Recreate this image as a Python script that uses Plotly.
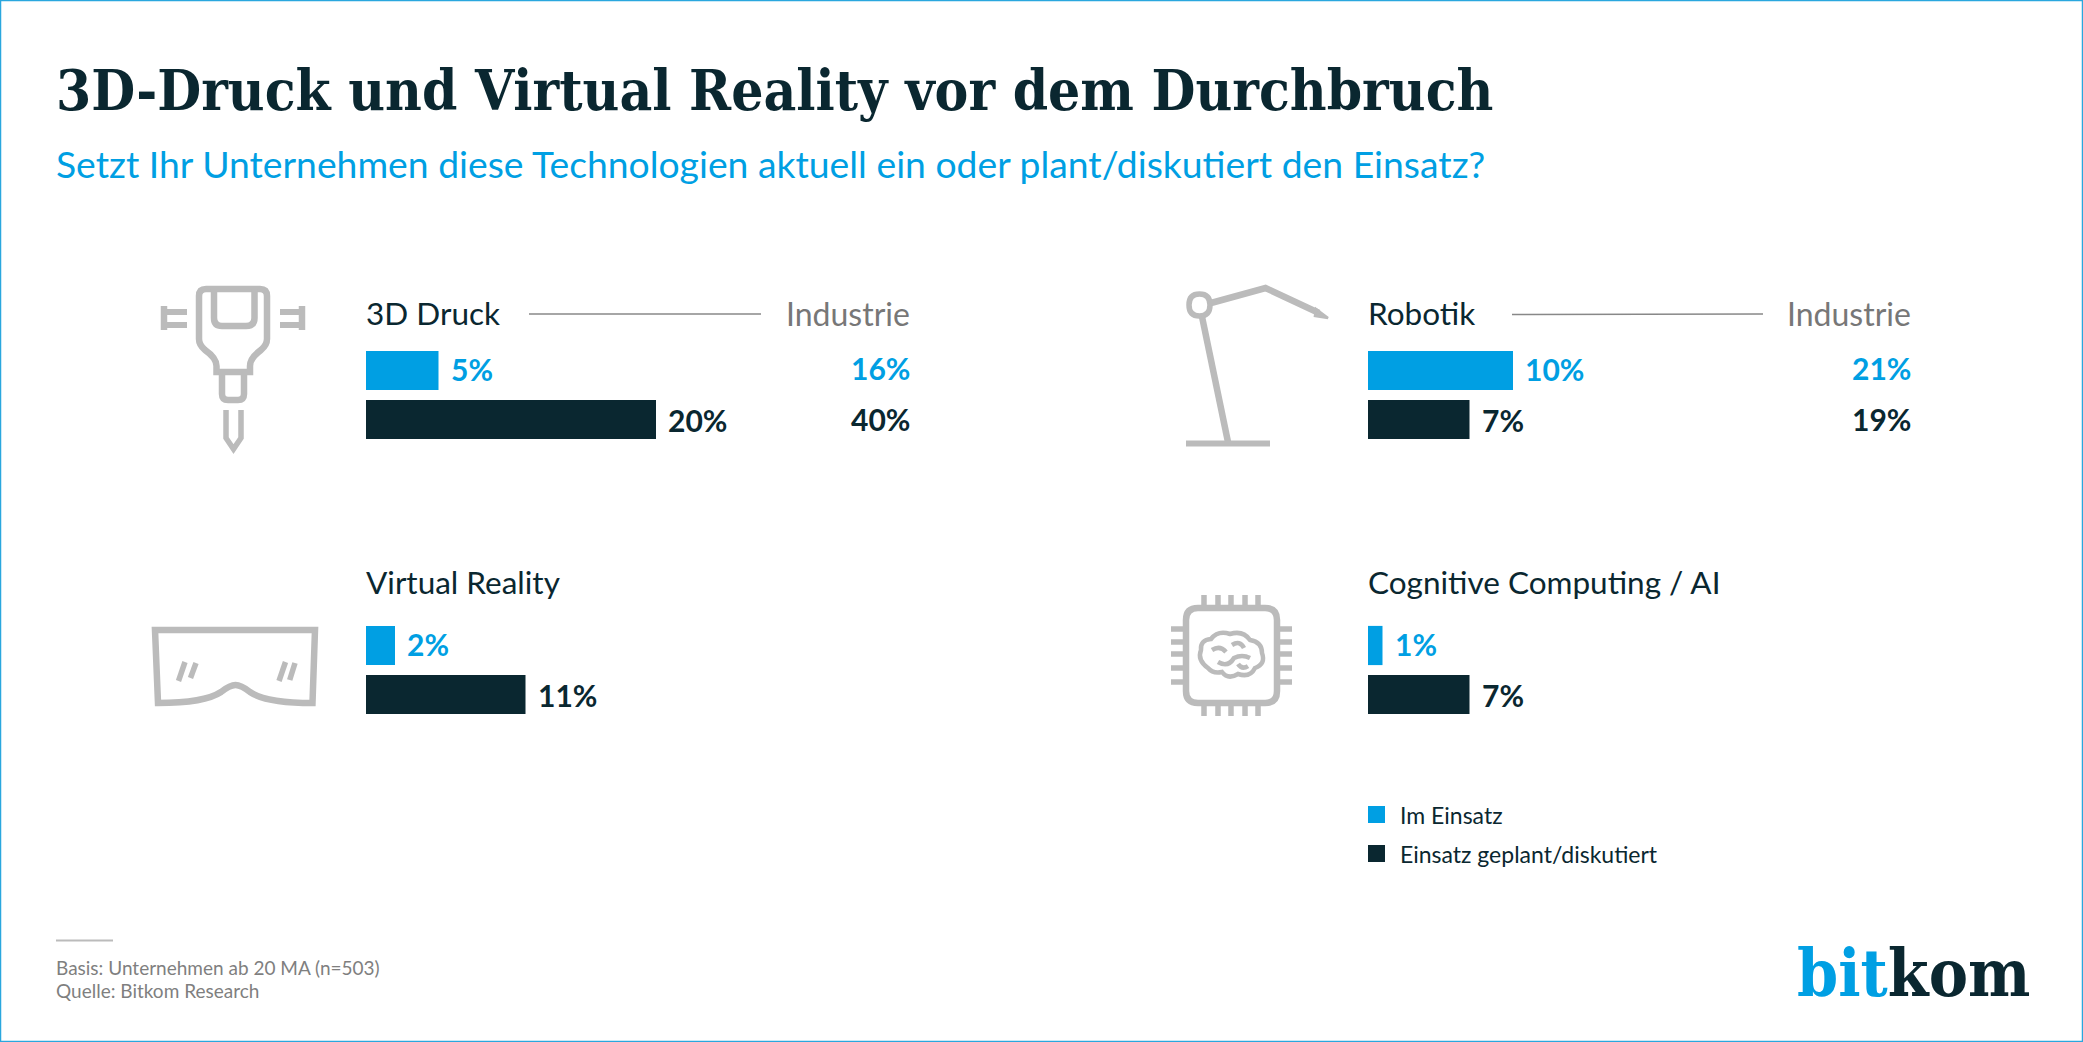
import re
import plotly.graph_objects as go

W, H = 2083, 1042

# ---- data ----
panels = ["3D Druck", "Robotik", "Virtual Reality", "Cognitive Computing / AI"]
series = ["Im Einsatz", "Einsatz geplant/diskutiert"]
im_einsatz = [5, 10, 2, 1]
geplant = [20, 7, 11, 7]
industrie_einsatz = [16, 21, None, None]
industrie_geplant = [40, 19, None, None]
title = "3D-Druck und Virtual Reality vor dem Durchbruch"
subtitle = "Setzt Ihr Unternehmen diese Technologien aktuell ein oder plant/diskutiert den Einsatz?"
industrie_label = "Industrie"
footer = ["Basis: Unternehmen ab 20 MA (n=503)", "Quelle: Bitkom Research"]

# ---- style ----
BLUE = "#009FE3"
DARK = "#0A2730"
GREY = "#BBBBBB"
SANS = "Lato"
SLAB = "DejaVu Serif Condensed"


def fx(x):
    return x / W


def fy(y):
    return 1 - y / H


def path(d):
    """Turn a path written in page pixels into paper coordinates."""
    n = [0]

    def conv(m):
        v = float(m.group(0))
        r = fx(v) if n[0] % 2 == 0 else fy(v)
        n[0] += 1
        return f"{r:.5f}"

    return re.sub(r"-?\d+\.?\d*", conv, d)


shapes = []


def stroke(d, w=5, color=GREY, fill=None):
    s = dict(type="path", xref="paper", yref="paper", path=path(d),
             line=dict(color=color, width=w), layer="above")
    if fill:
        s["fillcolor"] = fill
    shapes.append(s)


def text(x, y, t, size, color=DARK, anchor="left", font=SANS, weight=400, vanchor="middle"):
    annotations.append(dict(x=fx(x), y=fy(y), xref="paper", yref="paper", text=t, showarrow=False,
                            xanchor=anchor, yanchor=vanchor,
                            font=dict(family=font, size=size, color=color, weight=weight),
                            borderpad=0, borderwidth=0))


annotations = []

fig = go.Figure()
lefts = [366, 1368, 366, 1368]
tops = [346, 346, 621, 621]
head_ys = [313, 313, 582, 582]
right_edge = [910, 1911]
PANEL_H = 98
PANEL_W = 435

layout_axes = {}
for i, name in enumerate(panels):
    sfx = "" if i == 0 else str(i + 1)
    xa, ya = "x" + sfx, "y" + sfx
    for s, vals, col, ysh in ((series[0], im_einsatz, BLUE, 1.5), (series[1], geplant, DARK, 0)):
        fig.add_trace(go.Bar(x=[vals[i]], y=[s], orientation="h", name=s, marker=dict(color=col, line=dict(width=0)),
                             xaxis=xa, yaxis=ya, showlegend=False,
                             hovertemplate=f"{name}<br>{s}: %{{x}}%<extra></extra>"))
        annotations.append(dict(x=vals[i], y=s, xref=xa, yref=ya, text=f"{vals[i]}%", showarrow=False,
                                xanchor="left", yanchor="middle", xshift=10, yshift=ysh,
                                font=dict(family=SANS, size=30, color=col, weight=700)))
    layout_axes["xaxis" + sfx] = dict(domain=[fx(lefts[i]), fx(lefts[i] + PANEL_W)], range=[0, 30],
                                      visible=False, fixedrange=True)
    layout_axes["yaxis" + sfx] = dict(domain=[fy(tops[i] + PANEL_H), fy(tops[i])], type="category",
                                      categoryorder="array", categoryarray=series, range=[1.5, -0.5],
                                      visible=False, fixedrange=True)
    text(lefts[i], head_ys[i], name, 31.5)
    if i < 2:
        text(right_edge[i], head_ys[i], industrie_label, 32, color="#777777", anchor="right")
        text(right_edge[i], 367.5, f"{industrie_einsatz[i]}%", 30, color=BLUE, anchor="right", weight=700)
        text(right_edge[i], 419, f"{industrie_geplant[i]}%", 30, color=DARK, anchor="right", weight=700)

# header rules
stroke("M529,314 L761,314", 1.5, "#888888")
stroke("M1512,314.5 L1763,314", 1.5, "#888888")

# titles
text(56, 90, title, 56.3, font=SLAB, weight=700)
text(56, 163, subtitle, 37.3, color=BLUE)

# legend
for sy, col, label in ((806, BLUE, series[0]), (845, DARK, series[1])):
    shapes.append(dict(type="rect", xref="paper", yref="paper", x0=fx(1368), x1=fx(1385), y0=fy(sy), y1=fy(sy + 17),
                       fillcolor=col, line=dict(width=0)))
    text(1400, sy + 8.5, label, 23, color=DARK)

# footer
stroke("M56,940.5 L113,940.5", 2, GREY)
text(56, 967, footer[0], 19, color="#7F7F7F")
text(56, 990, footer[1], 19, color="#7F7F7F")
text(1797, 972, f'<span style="color:{BLUE}">bit</span><span style="color:{DARK}">kom</span>', 65.5,
     font=SLAB, weight=700)

# page frame
shapes.append(dict(type="rect", xref="paper", yref="paper", x0=0, x1=1, y0=0, y1=1,
                   line=dict(color="#2AA7DE", width=2.5), layer="above"))

# jackhammer icon
stroke("M199,296 Q199,289 206,289 L260,289 Q267,289 267,296 L267,339 Q267,345 261,350 Q250,358 250,366 L250,372 "
       "L216.5,372 L216.5,366 Q216.5,358 205,350 Q199,345 199,339 Z", 6.5)
stroke("M214,289 L214,318 Q214,326 222,326 L246,326 Q254.5,326 254.5,318 L254.5,289", 6.5)
stroke("M222,372 L222,394 Q222,400 228,400 L238,400 Q244,400 244,394 L244,372", 6.5)
stroke("M226,410 L226,438 L233.5,449 L241,438 L241,410", 5.5)
stroke("M164,306 L164,330", 6.5)
stroke("M164,312 L187,312", 6)
stroke("M164,325 L187,325", 6)
stroke("M302,306 L302,330", 6.5)
stroke("M280,312 L302,312", 6)
stroke("M280,325 L302,325", 6)

# VR goggles icon
stroke("M155,630 L315,630 L312.5,703 C285,703 262,700 250,692 Q241,685 235.5,685 Q230,685 221,692 "
       "C209,700 186,703 158,703 Z", 6.5)
stroke("M185,662 L178.5,681", 5.5)
stroke("M196,663 L190.5,678", 5.5)
stroke("M285.5,662 L279,681", 5.5)
stroke("M295,663 L289.7,680", 5.5)

# lamp / robot arm icon
stroke("M1199.5,294 Q1210,294 1210,305 Q1210,316 1199.5,316 Q1189,316 1189,305 Q1189,294 1199.5,294 Z", 5.5)
stroke("M1202,316.7 L1228,442", 6.5)
stroke("M1186,443.5 L1270,443.5", 6)
stroke("M1211,303 L1265.5,288 L1319,313", 6.5)
stroke("M1316,309 L1328,318 L1315,316 Z", 2.5, GREY, GREY)

# chip icon
stroke("M1198,608 L1265,608 Q1277,608 1277,620 L1277,691 Q1277,703 1265,703 L1198,703 Q1186,703 1186,691 "
       "L1186,620 Q1186,608 1198,608 Z", 6.5)
for px in (1204, 1218, 1231, 1245, 1258):
    stroke(f"M{px},595 L{px},606", 5.5)
    stroke(f"M{px},705 L{px},716", 5.5)
for py in (629, 642, 654, 668, 682):
    stroke(f"M1171,{py} L1184,{py}", 5.5)
    stroke(f"M1279,{py} L1292,{py}", 5.5)
stroke("M1208,668 Q1197,660 1201,650 Q1200,640 1211,639 Q1218,630 1230,634 Q1243,630 1250,640 Q1262,642 1262,653 "
       "Q1266,664 1255,668 Q1250,678 1238,674 Q1228,680 1222,672 Q1213,674 1208,668 Z", 4.5)
stroke("M1212,650 Q1220,645 1226,652", 4.5)
stroke("M1232,645 Q1240,640 1244,648", 4.5)
stroke("M1218,662 Q1228,668 1234,658 Q1242,654 1250,658", 4.5)
stroke("M1238,664 Q1242,670 1248,666", 4.5)

fig.update_layout(width=W, height=H, margin=dict(l=0, r=0, t=0, b=0), paper_bgcolor="white", plot_bgcolor="white",
                  barmode="overlay", bargap=0.2, shapes=shapes, annotations=annotations, showlegend=False,
                  **layout_axes)

fig.write_html("out.html", config={"displayModeBar": False},
               post_script="document.body.style.margin='0';document.body.style.overflow='hidden';")
